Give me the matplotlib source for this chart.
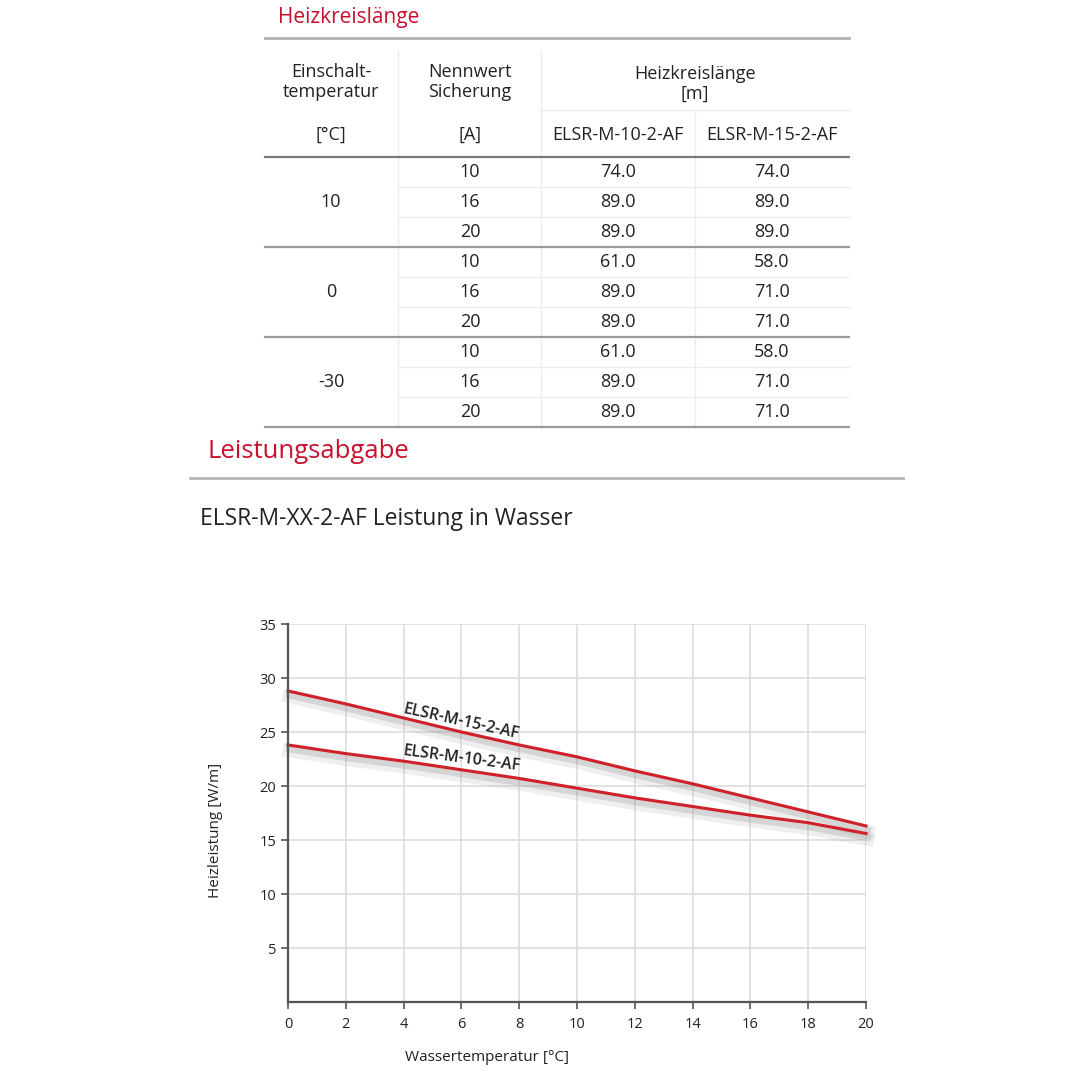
import numpy as np
import matplotlib
matplotlib.use("Agg")
import matplotlib.pyplot as plt
import matplotlib.patheffects as pe

plt.rcParams['font.family'] = ['Open Sans', 'DejaVu Sans']

# ---- data --------------------------------------------------------------
switch_temps = ['10', '0', '-30']
fuse_ratings = ['10', '16', '20']
len_m10 = [[74.0, 89.0, 89.0], [61.0, 89.0, 89.0], [61.0, 89.0, 89.0]]
len_m15 = [[74.0, 89.0, 89.0], [58.0, 71.0, 71.0], [58.0, 71.0, 71.0]]
models = ['ELSR-M-10-2-AF', 'ELSR-M-15-2-AF']

water_temp = [0, 2, 4, 6, 8, 10, 12, 14, 16, 18, 20]
power_m15 = [28.8, 27.6, 26.3, 25.0, 23.8, 22.7, 21.4, 20.2, 18.9, 17.6, 16.3]
power_m10 = [23.8, 23.0, 22.3, 21.5, 20.7, 19.8, 18.9, 18.1, 17.3, 16.6, 15.6]

RED = '#c8102e'
TXT = '#222222'

fig = plt.figure(figsize=(10.8, 10.8), dpi=100)

# overlay in pixel coordinates for the table / headings
ov = fig.add_axes([0, 0, 1, 1])
ov.set_xlim(0, 1080)
ov.set_ylim(1080, 0)
ov.axis('off')

# headings
ov.text(278, 17, 'Heizkreislänge', color=RED, fontsize=15, va='center', ha='left')
ov.plot([265, 849], [38, 38], color='#b0b0b0', lw=2)

# table column layout
col_x = [331, 470, 618, 772]
sep_x = [398, 541, 695]
tbl_l, tbl_r = 265, 849
fs = 13

# header
ov.text(col_x[0], 82, 'Einschalt-\ntemperatur', ha='center', va='center',
        fontsize=fs, color=TXT, linespacing=1.15)
ov.text(col_x[0], 135, '[°C]', ha='center', va='center', fontsize=fs, color=TXT)
ov.text(col_x[1], 82, 'Nennwert\nSicherung', ha='center', va='center',
        fontsize=fs, color=TXT, linespacing=1.15)
ov.text(col_x[1], 135, '[A]', ha='center', va='center', fontsize=fs, color=TXT)
ov.text((sep_x[1] + tbl_r) / 2, 84, 'Heizkreislänge\n[m]', ha='center', va='center',
        fontsize=fs, color=TXT, linespacing=1.15)
for m, cx in zip(models, col_x[2:]):
    ov.text(cx, 135, m, ha='center', va='center', fontsize=fs, color=TXT)

ov.plot([sep_x[1], tbl_r], [110, 110], color='#ececec', lw=1)
ov.plot([sep_x[0], sep_x[0]], [50, 428], color='#ececec', lw=1)
ov.plot([sep_x[1], sep_x[1]], [50, 428], color='#ececec', lw=1)
ov.plot([sep_x[2], sep_x[2]], [110, 428], color='#ececec', lw=1)
ov.plot([tbl_l, tbl_r], [157, 157], color='#7a7a7a', lw=1.6)

# body
row_h = 30
y0 = 157
for g, temp in enumerate(switch_temps):
    gy = y0 + g * 3 * row_h
    ov.text(col_x[0], gy + 1.5 * row_h, temp, ha='center', va='center',
            fontsize=fs, color=TXT)
    for r, fuse in enumerate(fuse_ratings):
        cy = gy + (r + 0.5) * row_h
        ov.text(col_x[1], cy, fuse, ha='center', va='center', fontsize=fs, color=TXT)
        ov.text(col_x[2], cy, f'{len_m10[g][r]:.1f}', ha='center', va='center',
                fontsize=fs, color=TXT)
        ov.text(col_x[3], cy, f'{len_m15[g][r]:.1f}', ha='center', va='center',
                fontsize=fs, color=TXT)
        if r < 2:
            ov.plot([sep_x[0], tbl_r], [gy + (r + 1) * row_h] * 2,
                    color='#ececec', lw=1)
    ov.plot([tbl_l, tbl_r], [gy + 3 * row_h] * 2, color='#9a9a9a', lw=1.6)

ov.text(208, 452, 'Leistungsabgabe', color=RED, fontsize=18.5, va='center', ha='left')
ov.plot([190, 903], [478, 478], color='#b5b5b5', lw=2)
ov.text(200, 519, 'ELSR-M-XX-2-AF Leistung in Wasser', color=TXT, fontsize=16.5,
        va='center', ha='left')

# ---- chart -------------------------------------------------------------
ax = fig.add_axes([288 / 1080, (1080 - 1002) / 1080, (866 - 288) / 1080, (1002 - 624) / 1080])
ax.set_xlim(0, 20)
ax.set_ylim(0, 35)
ax.set_xticks(np.arange(0, 21, 2))
ax.set_yticks(np.arange(5, 36, 5))
ax.grid(True, color='#dddddd', lw=1.2)
ax.set_axisbelow(True)
for s in ['top', 'right']:
    ax.spines[s].set_visible(False)
for s in ['left', 'bottom']:
    ax.spines[s].set_color('#555555')
    ax.spines[s].set_linewidth(1.6)
ax.tick_params(axis='both', colors='#555555', length=5, width=1.2,
               labelsize=10.5, labelcolor=TXT)
ax.tick_params(axis='x', pad=6)

# soft grey drop shadow under the curves
shadow = [pe.SimpleLineShadow(offset=(1, -4), shadow_color='#999999', alpha=0.15,
                              linewidth=10),
          pe.SimpleLineShadow(offset=(1, -3), shadow_color='#888888', alpha=0.25,
                              linewidth=5),
          pe.Normal()]
ax.plot(water_temp, power_m15, color='#d0202a', lw=2.2, path_effects=shadow, clip_on=False)
ax.plot(water_temp, power_m10, color='#d0202a', lw=2.2, path_effects=shadow, clip_on=False)

ax.text(3.95, 26.8, models[1], rotation=-12.5, fontsize=11.5, color=TXT,
        ha='left', va='baseline', rotation_mode='anchor', fontweight='semibold')
ax.text(3.95, 22.9, models[0], rotation=-7.5, fontsize=11.5, color=TXT,
        ha='left', va='baseline', rotation_mode='anchor', fontweight='semibold')

ax.text(-0.126, 0.455, 'Heizleistung [W/m]', rotation=90, transform=ax.transAxes,
        ha='center', va='center', fontsize=11, color=TXT)
ax.text(0.344, -0.148, 'Wassertemperatur [°C]', transform=ax.transAxes,
        ha='center', va='center', fontsize=11, color=TXT)

fig.savefig('out.png', dpi=100, facecolor='white')
